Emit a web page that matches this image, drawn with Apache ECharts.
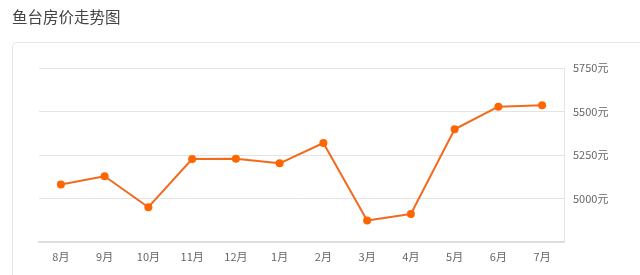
<!DOCTYPE html>
<html><head><meta charset="utf-8">
<script src="https://cdn.jsdelivr.net/npm/echarts@6/dist/echarts.min.js"></script>
<style>html,body{margin:0;padding:0;background:#fff}#c{width:640px;height:275px}</style>
</head><body><div id="c"></div>
<script>
const categories = ['8月','9月','10月','11月','12月','1月','2月','3月','4月','5月','6月','7月'];
const prices = [5080, 5128, 4950, 5227, 5228, 5202, 5319, 4873, 4911, 5398, 5528, 5536];
const yMin = 4750, yMax = 5750, yStep = 250;

const chart = echarts.init(document.getElementById('c'), null, {renderer:'canvas'});
chart.setOption({
  animation:false,
  title:{text:'鱼台房价走势图', left:7, top:4, textStyle:{fontSize:15.5, fontWeight:'normal', color:'#444', fontFamily:'Noto Sans CJK SC'}},
  graphic:[{type:'rect', left:12, top:42, shape:{width:640, height:250, r:4}, style:{fill:'#fff', stroke:'#e6e6e6', lineWidth:1}, z:-1}],
  grid:{left:39, right:76, top:68, bottom:33},
  xAxis:{type:'category', data:categories, boundaryGap:true,
    axisLine:{lineStyle:{color:'#ddd', width:2}},
    axisTick:{alignWithLabel:true, length:4, lineStyle:{color:'#ddd'}},
    axisLabel:{color:'#666', fontSize:11, margin:9, fontFamily:'Noto Sans CJK SC'}},
  yAxis:{type:'value', position:'right', min:yMin, max:yMax, interval:yStep,
    axisLine:{show:true, lineStyle:{color:'#e6e6e6'}},
    axisTick:{show:false},
    splitLine:{lineStyle:{color:'#e3e3e3'}},
    axisLabel:{color:'#666', fontSize:11, margin:9, fontFamily:'Noto Sans CJK SC',
      formatter:v => v === yMin ? '' : v + '元'}},
  series:[{type:'line', data:prices, symbol:'circle', symbolSize:8,
    lineStyle:{color:'#f26b1d', width:2}, itemStyle:{color:'#ff6600'}}]
});
</script></body></html>
